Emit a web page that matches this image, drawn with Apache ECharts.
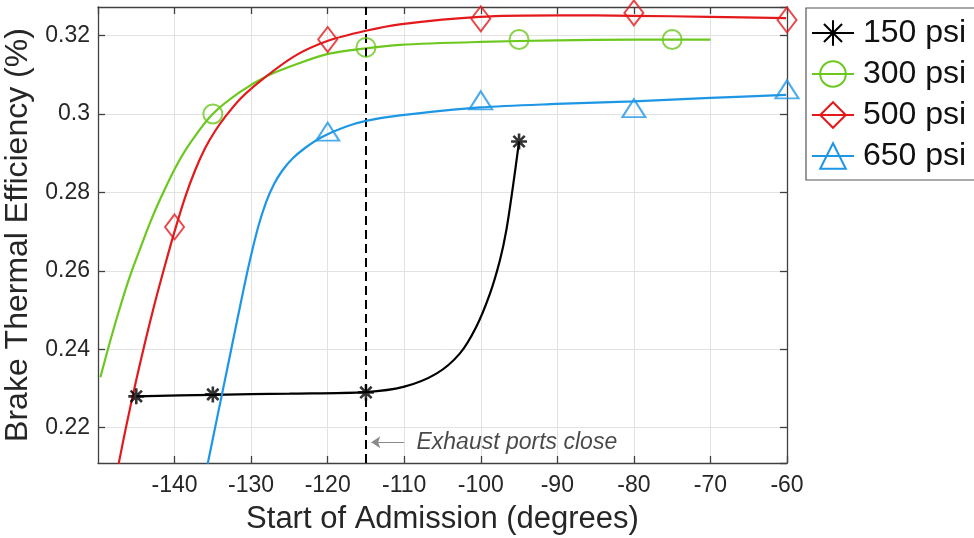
<!DOCTYPE html>
<html>
<head>
<meta charset="utf-8">
<script src="https://cdn.jsdelivr.net/npm/echarts@6.0.0/dist/echarts.min.js"></script>
<style>
  html, body { margin: 0; padding: 0; background: #fff; }
  #chart { width: 974px; height: 538px; }
</style>
</head>
<body>
<div id="chart"></div>
<script>
// Series names
const seriesNames = ['150 psi', '300 psi', '500 psi', '650 psi'];
const seriesColors = ['#000000', '#6cc81e', '#e3191c', '#1e96e6'];

// Measured points (markers)
const pts150X = [-145, -135, -115, -95];
const pts150Y = [0.2280, 0.2285, 0.2290, 0.2930];
const pts300X = [-135, -115, -95, -75];
const pts300Y = [0.3000, 0.3170, 0.3190, 0.3190];
const pts500X = [-140, -120, -100, -80, -60];
const pts500Y = [0.2712, 0.3190, 0.3243, 0.3258, 0.3240];
const pts650X = [-120, -100, -80, -60];
const pts650Y = [0.2955, 0.3035, 0.3015, 0.3063];

// Fitted curves
const fit150X = [-145, -135, -125, -115, -110.1, -105.8, -102.75, -100.6, -98.8, -97.5, -96.66, -95.8, -95];
const fit150Y = [0.2280, 0.2284, 0.2287, 0.2291, 0.2304, 0.2338, 0.2389, 0.2457, 0.2542, 0.2627, 0.2704, 0.2815, 0.2930];
const fit300X = [-149.69, -148.38, -147.08, -145.78, -144.47, -143.17, -141.87, -139.91, -137.95, -135.08, -131.43, -127.91, -123.61, -119.96, -115.01, -110.58, -100, -90, -80, -70];
const fit300Y = [0.23285, 0.24230, 0.25099, 0.25891, 0.26580, 0.27245, 0.27832, 0.28624, 0.29263, 0.29990, 0.30564, 0.30973, 0.31305, 0.31535, 0.31676, 0.31765, 0.3184, 0.3188, 0.3190, 0.3190];
const fit500X = [-147.30, -146.43, -145.13, -143.82, -142.52, -141.21, -139.91, -138.61, -137.30, -136.00, -134.70, -133.39, -131.43, -128.44, -124.27, -119.96, -115.01, -110.58, -100.14, -89.71, -80.20, -70.16, -60.12];
const fit500Y = [0.21080, 0.21931, 0.23106, 0.24204, 0.25226, 0.26171, 0.27065, 0.27882, 0.28572, 0.29134, 0.29568, 0.29926, 0.30386, 0.30897, 0.31484, 0.31868, 0.32124, 0.32289, 0.32480, 0.32518, 0.32506, 0.32480, 0.32447];
const fit650X = [-135.67, -134.43, -133.13, -131.82, -130.39, -129.09, -128.04, -127.00, -125.96, -124.65, -122.96, -120.74, -117.74, -115.00, -110.57, -100.14, -90.10, -80.06, -70.02, -60.11];
const fit650Y = [0.21080, 0.22263, 0.23489, 0.24741, 0.26069, 0.27113, 0.27755, 0.28215, 0.28547, 0.28853, 0.29134, 0.29415, 0.29670, 0.29824, 0.29964, 0.30168, 0.30258, 0.30322, 0.30411, 0.30488];

// Annotation
const exhaustCloseX = -115;
const arrowY = 0.2163;
const arrowTailX = -110.0;
const arrowHeadX = -114.3;
const noteX = -108.4;
const noteText = 'Exhaust ports close';

const zip = (xs, ys) => xs.map((x, i) => [x, ys[i]]);

const asterisk = 'path://M0 -10 L0 10 M-10 0 L10 0 M-7.07 -7.07 L7.07 7.07 M-7.07 7.07 L7.07 -7.07';
const symbols = [asterisk, 'circle', 'diamond', 'triangle'];
const symbolSizes = [16, 19, [19, 25], [23, 18]];
const fits = [zip(fit150X, fit150Y), zip(fit300X, fit300Y), zip(fit500X, fit500Y), zip(fit650X, fit650Y)];
const pts = [zip(pts150X, pts150Y), zip(pts300X, pts300Y), zip(pts500X, pts500Y), zip(pts650X, pts650Y)];

const FONT = '"Liberation Sans", Arial, Helvetica, sans-serif';
const AXIS_COLOR = '#404040';
const GRID_COLOR = '#e2e2e2';

const series = [];
seriesNames.forEach((name, i) => {
  series.push({
    name: name,
    type: 'line',
    data: fits[i],
    smooth: 0.3,
    showSymbol: false,
    symbol: symbols[i],
    lineStyle: { color: seriesColors[i], width: 2.2 },
    itemStyle: { color: 'rgba(0,0,0,0)', borderColor: seriesColors[i], borderWidth: 2 },
    z: 3 + i,
    silent: true
  });
});
seriesNames.forEach((name, i) => {
  series.push({
    name: name + ' data',
    type: 'scatter',
    data: pts[i],
    symbol: symbols[i],
    symbolSize: symbolSizes[i],
    itemStyle: { color: 'rgba(0,0,0,0)', borderColor: seriesColors[i], borderWidth: i === 0 ? 2.6 : 2 },
    z: 10 + i,
    silent: true
  });
});

// Dashed line at exhaust port closing, arrow and note
series.push({
  name: 'note',
  type: 'scatter',
  data: [[noteX, arrowY]],
  symbolSize: 0,
  silent: true,
  label: {
    show: true,
    position: 'right',
    distance: 0,
    formatter: noteText,
    fontFamily: FONT,
    fontStyle: 'italic',
    fontSize: 23,
    color: '#1a1a1a'
  },
  markLine: {
    silent: true,
    symbol: 'none',
    animation: false,
    label: { show: false },
    data: [
      { xAxis: exhaustCloseX, lineStyle: { color: '#000', width: 2, type: [9, 5] } },
      [
        { coord: [arrowTailX, arrowY], symbol: 'none', lineStyle: { color: '#8a8a8a', width: 1.2, type: 'solid' } },
        { coord: [arrowHeadX, arrowY], symbol: 'arrow', symbolSize: [9, 9] }
      ]
    ]
  }
});

const axisCommon = {
  type: 'value',
  axisLine: { show: true, lineStyle: { color: AXIS_COLOR, width: 1.3 } },
  axisTick: { show: true, inside: true, length: 7, lineStyle: { color: AXIS_COLOR, width: 1.3 } },
  splitLine: { show: false }
};

const option = {
  animation: false,
  backgroundColor: '#ffffff',
  grid: { left: 98, right: 187, top: 7, bottom: 75, containLabel: false, outerBoundsMode: 'none' },
  legend: {
    data: seriesNames,
    orient: 'vertical',
    left: 806,
    top: 8,
    itemWidth: 42,
    itemHeight: 32,
    itemGap: 9,
    padding: [9, 30, 8, 5],
    borderColor: '#555555',
    borderWidth: 1.2,
    backgroundColor: '#ffffff',
    selectedMode: false,
    textStyle: { fontFamily: FONT, fontSize: 32, color: '#111', padding: [0, 0, 0, 4] }
  },
  xAxis: [
    Object.assign({}, axisCommon, {
      position: 'bottom',
      min: -150,
      max: -60,
      splitNumber: 9,
      name: 'Start of Admission (degrees)',
      nameLocation: 'middle',
      nameGap: 41,
      nameTextStyle: { fontFamily: FONT, fontSize: 31, color: '#262626' },
      axisLabel: { fontFamily: FONT, fontSize: 23, color: '#262626', margin: 11, showMinLabel: false },
      splitLine: { show: true, lineStyle: { color: GRID_COLOR, width: 1 } }
    }),
    Object.assign({}, axisCommon, {
      position: 'top',
      min: -150,
      max: -60,
      splitNumber: 9,
      axisLabel: { show: false }
    })
  ],
  yAxis: [
    Object.assign({}, axisCommon, {
      position: 'left',
      min: 0.211,
      max: 0.3273,
      splitNumber: 5,
      name: 'Brake Thermal Efficiency (%)',
      nameLocation: 'middle',
      nameGap: 55,
      nameTextStyle: { fontFamily: FONT, fontSize: 32, color: '#262626' },
      axisLabel: { fontFamily: FONT, fontSize: 23, color: '#262626', margin: 8, showMinLabel: false, showMaxLabel: false },
      splitLine: { show: true, lineStyle: { color: GRID_COLOR, width: 1 } }
    }),
    Object.assign({}, axisCommon, {
      position: 'right',
      min: 0.211,
      max: 0.3273,
      splitNumber: 5,
      axisLabel: { show: false }
    })
  ],
  series: series
};

const chart = echarts.init(document.getElementById('chart'), null, { renderer: 'canvas' });
chart.setOption(option);
</script>
</body>
</html>
